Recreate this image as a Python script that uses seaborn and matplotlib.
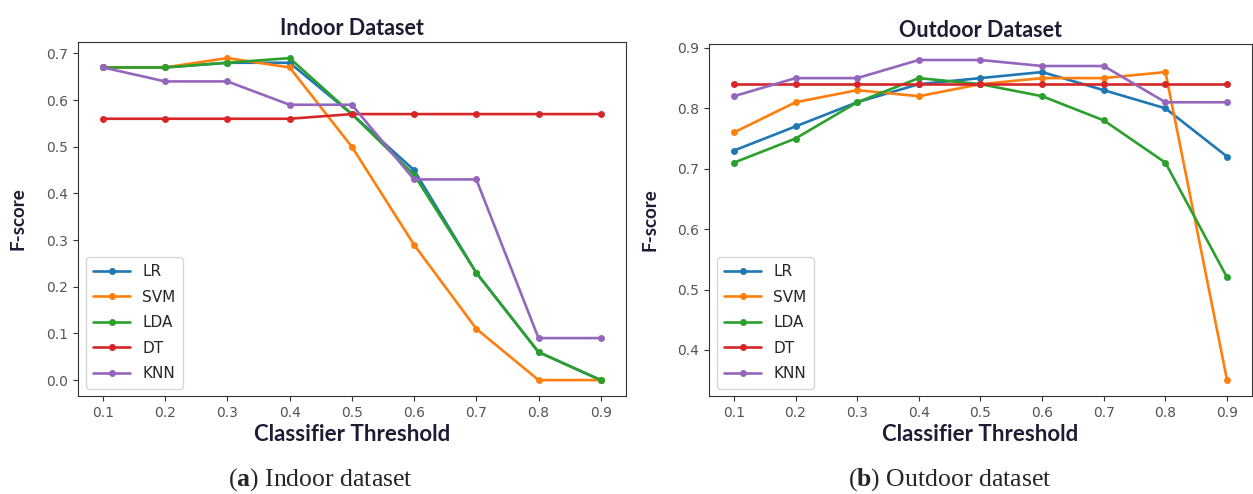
import pandas as pd
import matplotlib.pyplot as plt
import seaborn as sns

# thresholds and F-scores
thresholds = [0.1, 0.2, 0.3, 0.4, 0.5, 0.6, 0.7, 0.8, 0.9]
models = ["LR", "SVM", "LDA", "DT", "KNN"]

indoor_lr = [0.67, 0.67, 0.68, 0.68, 0.57, 0.45, 0.23, 0.06, 0.0]
indoor_svm = [0.67, 0.67, 0.69, 0.67, 0.50, 0.29, 0.11, 0.0, 0.0]
indoor_lda = [0.67, 0.67, 0.68, 0.69, 0.57, 0.44, 0.23, 0.06, 0.0]
indoor_dt = [0.56, 0.56, 0.56, 0.56, 0.57, 0.57, 0.57, 0.57, 0.57]
indoor_knn = [0.67, 0.64, 0.64, 0.59, 0.59, 0.43, 0.43, 0.09, 0.09]

outdoor_lr = [0.73, 0.77, 0.81, 0.84, 0.85, 0.86, 0.83, 0.80, 0.72]
outdoor_svm = [0.76, 0.81, 0.83, 0.82, 0.84, 0.85, 0.85, 0.86, 0.35]
outdoor_lda = [0.71, 0.75, 0.81, 0.85, 0.84, 0.82, 0.78, 0.71, 0.52]
outdoor_dt = [0.84, 0.84, 0.84, 0.84, 0.84, 0.84, 0.84, 0.84, 0.84]
outdoor_knn = [0.82, 0.85, 0.85, 0.88, 0.88, 0.87, 0.87, 0.81, 0.81]


def to_long(series):
    rows = []
    for name, vals in zip(models, series):
        for t, v in zip(thresholds, vals):
            rows.append({"Threshold": t, "F-score": v, "Model": name})
    return pd.DataFrame(rows)


df_in = to_long([indoor_lr, indoor_svm, indoor_lda, indoor_dt, indoor_knn])
df_out = to_long([outdoor_lr, outdoor_svm, outdoor_lda, outdoor_dt, outdoor_knn])

sns.set_style("ticks")
plt.rcParams["font.family"] = ["DejaVu Sans"]
plt.rcParams["mathtext.fontset"] = "custom"
plt.rcParams["mathtext.rm"] = "Liberation Serif"
plt.rcParams["mathtext.bf"] = "Liberation Serif:bold"

label_color = "#1c1c34"
tick_color = "#555555"

fig = plt.figure(figsize=(12.53, 4.94), dpi=100)
ax1 = fig.add_axes([0.0623, 0.198, 0.437, 0.717])
ax2 = fig.add_axes([0.566, 0.198, 0.433, 0.713])

panels = [
    (ax1, df_in, "Indoor Dataset"),
    (ax2, df_out, "Outdoor Dataset"),
]
for ax, df, title in panels:
    sns.lineplot(data=df, x="Threshold", y="F-score", hue="Model", palette="tab10",
                 marker="o", markersize=5, markeredgewidth=0, linewidth=1.9, ax=ax)
    ax.set_xticks(thresholds)
    ax.set_title(title, fontsize=15.5, fontweight="bold", family="Lato",
                 color=label_color, pad=5)
    ax.set_xlabel("Classifier Threshold", fontsize=16, fontweight="bold",
                  family="Lato", color=label_color, labelpad=3)
    ax.set_ylabel("F-score", fontsize=13.5, fontweight="bold", family="Lato",
                  color=label_color, labelpad=14)
    ax.tick_params(labelsize=10, labelcolor=tick_color, color="#333333")
    for sp in ax.spines.values():
        sp.set_color("#333333")
    leg = ax.legend(loc="lower left", fontsize=11, frameon=True, title=None,
                    labelspacing=0.68, handlelength=2.4, borderpad=0.5)
    leg.get_frame().set_edgecolor("#cccccc")

# sub-figure captions
fig.text(0.256, 0.003, r"($\mathbf{a}$) Indoor dataset", fontsize=18.5,
         family="Liberation Serif", ha="center", va="bottom")
fig.text(0.758, 0.003, r"($\mathbf{b}$) Outdoor dataset", fontsize=18.5,
         family="Liberation Serif", ha="center", va="bottom")

plt.savefig("out.png", dpi=100)
plt.close()
